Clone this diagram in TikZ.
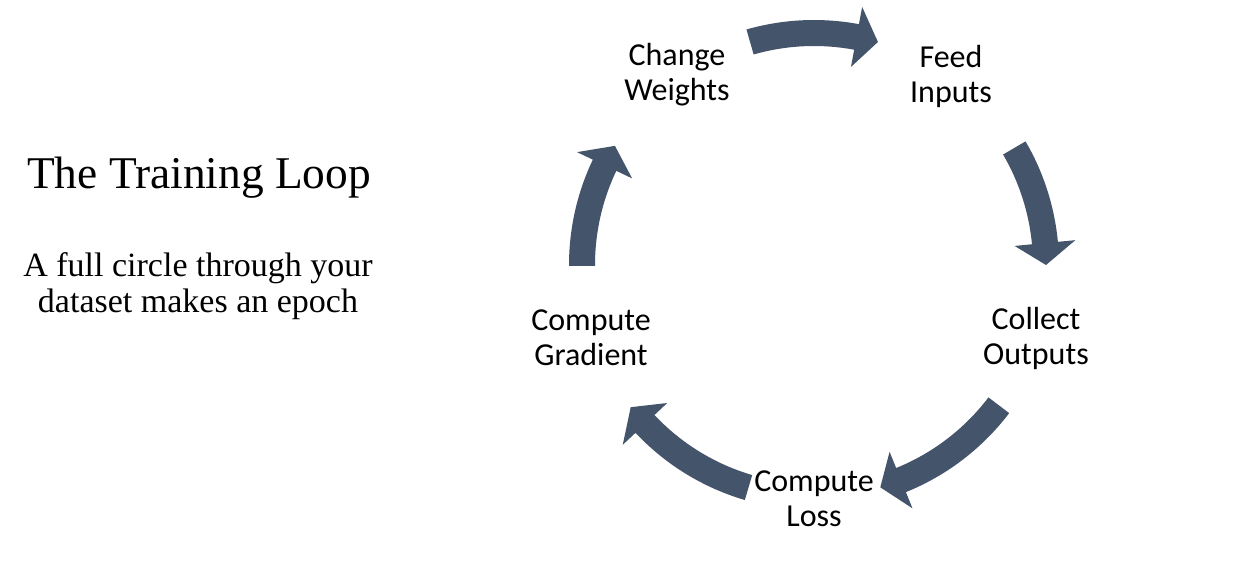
\documentclass[tikz,border=0pt]{standalone}
\usepackage{fontspec}
\setmainfont{Liberation Serif}
\newfontfamily\calib{Carlito}
\usetikzlibrary{calc}
\definecolor{arrowcol}{HTML}{44546A}
\newcommand{\cyclearrow}[2]{%
  \pgfmathsetmacro{\hb}{#2+5.43}%
  \fill[arrowcol] ($(C)+(#1:122.5pt)$) arc[start angle=#1, end angle=\hb, radius=122.5pt]
    -- ($(C)+(\hb:131.25pt)$) -- ($(C)+(#2:116pt)$) -- ($(C)+(\hb:100.75pt)$)
    -- ($(C)+(\hb:109.5pt)$) arc[start angle=\hb, end angle=#1, radius=109.5pt] -- cycle;}
\begin{document}
\begin{tikzpicture}[x=0.5pt,y=0.5pt,
  stage/.style={font=\calib\fontsize{16pt}{17.5pt}\selectfont, align=center, inner sep=0pt, text=black},
  titletext/.style={font=\fontsize{22.7pt}{26pt}\selectfont, inner sep=0pt},
  subtext/.style={font=\fontsize{17pt}{18pt}\selectfont, align=center, inner sep=0pt}]
\useasboundingbox (0,0) rectangle (1241,569);
\fill[white] (0,0) rectangle (1241,569);
\coordinate (C) at (814,304);
\cyclearrow{106}{74}
\cyclearrow{30.3}{0}
\cyclearrow{-37.2}{-73.4}
\cyclearrow{-106.4}{-142.2}
\cyclearrow{180.2}{149.1}
\node[stage] (cw) at (677,494) {Change\\Weights};
\node[stage] (fi) at (951,493) {Feed\\Inputs};
\node[stage] (co) at (1036,231) {Collect\\Outputs};
\node[stage] (cl) at (814,70) {Compute\\Loss};
\node[stage] (cg) at (591,231) {Compute\\Gradient};
\node[titletext] (title) at (199,391) {The Training Loop};
\node[subtext] (sub) at (198,283) {A full circle through your\\dataset makes an epoch};
\end{tikzpicture}
\end{document}
